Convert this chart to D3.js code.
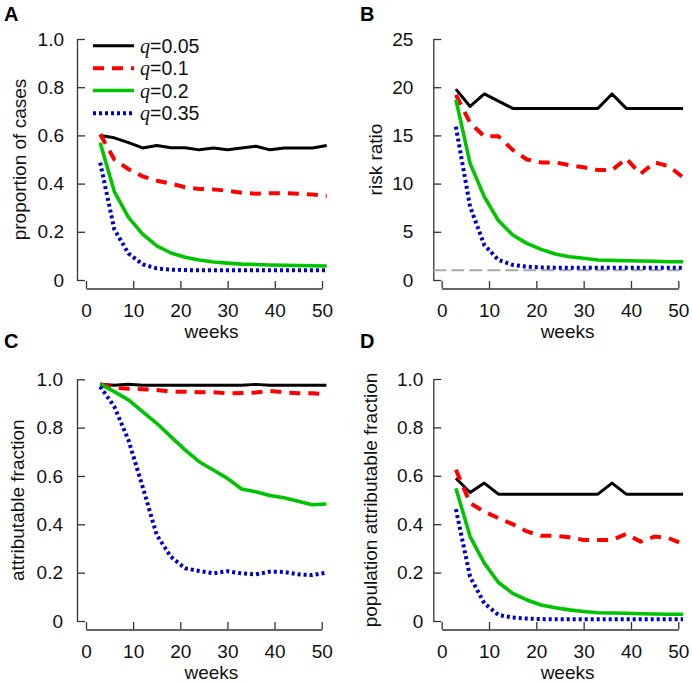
<!DOCTYPE html>
<html><head><meta charset="utf-8">
<script src="https://cdn.jsdelivr.net/npm/d3@7"></script>
<style>
body{margin:0;background:#fff}
svg{display:block}
text{font-family:"Liberation Sans",Arial,Helvetica,sans-serif}
</style>
</head><body>
<svg id="chart" width="692" height="683"></svg>
<script>
// ---------- data ----------
const weeks = [3,6,9,12,15,18,21,24,27,30,33,36,39,42,45,48,51];
const qLabels = ["0.05","0.1","0.2","0.35"];
const xTicks = [0,10,20,30,40,50];
const fracTicks = [0,0.2,0.4,0.6,0.8,1.0];
const rrTicks = [0,5,10,15,20,25];

// A: proportion of cases
const propCases_q005 = [0.600,0.590,0.570,0.548,0.558,0.549,0.549,0.540,0.548,0.540,0.548,0.555,0.540,0.548,0.548,0.548,0.558];
const propCases_q01  = [0.605,0.500,0.460,0.430,0.412,0.400,0.385,0.378,0.376,0.370,0.362,0.358,0.360,0.360,0.358,0.355,0.348];
const propCases_q02  = [0.570,0.367,0.260,0.190,0.142,0.112,0.094,0.083,0.075,0.070,0.066,0.064,0.062,0.061,0.060,0.059,0.058];
const propCases_q035 = [0.487,0.210,0.110,0.065,0.048,0.043,0.041,0.040,0.040,0.040,0.040,0.040,0.040,0.040,0.040,0.040,0.040];

// B: risk ratio
const riskRatio_q005 = [19.8,18.0,19.3,18.55,17.8,17.8,17.8,17.8,17.8,17.8,17.8,19.3,17.8,17.8,17.8,17.8,17.8];
const riskRatio_q01  = [19.2,16.3,14.9,14.9,13.5,12.5,12.2,12.2,11.9,11.7,11.4,11.4,12.6,11.0,12.2,11.8,10.65];
const riskRatio_q02  = [18.7,12.1,8.64,6.15,4.67,3.80,3.18,2.70,2.42,2.25,2.07,2.04,2.00,1.97,1.94,1.90,1.90];
const riskRatio_q035 = [15.9,7.6,3.63,2.07,1.56,1.38,1.31,1.28,1.28,1.28,1.28,1.28,1.28,1.28,1.28,1.28,1.28];
const riskRatioRef = 1;

// C: attributable fraction
const attrFrac_q005 = [0.980,0.975,0.980,0.975,0.975,0.975,0.975,0.975,0.975,0.975,0.975,0.979,0.975,0.975,0.975,0.975,0.975];
const attrFrac_q01  = [0.980,0.966,0.961,0.959,0.956,0.949,0.949,0.946,0.946,0.942,0.943,0.945,0.952,0.946,0.942,0.942,0.938];
const attrFrac_q02  = [0.980,0.949,0.915,0.866,0.818,0.763,0.708,0.659,0.625,0.590,0.546,0.535,0.519,0.510,0.495,0.481,0.484];
const attrFrac_q035 = [0.970,0.887,0.749,0.556,0.356,0.266,0.218,0.207,0.197,0.206,0.197,0.193,0.204,0.203,0.193,0.190,0.200];

// D: population attributable fraction
const popAttrFrac_q005 = [0.590,0.531,0.570,0.524,0.524,0.524,0.524,0.524,0.524,0.524,0.524,0.570,0.524,0.524,0.524,0.524,0.524];
const popAttrFrac_q01  = [0.625,0.487,0.452,0.425,0.400,0.370,0.352,0.352,0.346,0.335,0.335,0.335,0.360,0.328,0.349,0.342,0.319];
const popAttrFrac_q02  = [0.549,0.349,0.239,0.159,0.114,0.087,0.066,0.055,0.046,0.039,0.034,0.033,0.032,0.030,0.029,0.028,0.028];
const popAttrFrac_q035 = [0.462,0.183,0.073,0.025,0.014,0.010,0.008,0.007,0.007,0.007,0.007,0.007,0.007,0.007,0.007,0.007,0.007];

// ---------- styles ----------
const seriesStyle = [
  {color:"#000000", width:3,   dash:null},
  {color:"#ff0000", width:4,   dash:"11,8"},
  {color:"#00c400", width:3.6, dash:null},
  {color:"#0000cd", width:4,   dash:"3,3"}
];
const FS = 19;

const panels = [
  {letter:"A", lx:4, ly:21, data:[propCases_q005,propCases_q01,propCases_q02,propCases_q035],
   yDomain:[0,1], yTicks:fracTicks, xr:[86,322], yr:[280,39], axX:77, axY:288.5, pad:13,
   ylab:"proportion of cases", ylabX:26, legend:true},
  {letter:"B", lx:360, ly:21, data:[riskRatio_q005,riskRatio_q01,riskRatio_q02,riskRatio_q035],
   yDomain:[0,25], yTicks:rrTicks, xr:[441.7,678.3], yr:[280,39], axX:433.3, axY:288.5, pad:20,
   ylab:"risk ratio", ylabX:382, ref:riskRatioRef},
  {letter:"C", lx:4, ly:348, data:[attrFrac_q005,attrFrac_q01,attrFrac_q02,attrFrac_q035],
   yDomain:[0,1], yTicks:fracTicks, xr:[86,321.7], yr:[621,379.3], axX:77, axY:629.5, pad:14,
   ylab:"attributable fraction", ylabX:24},
  {letter:"D", lx:360, ly:348, data:[popAttrFrac_q005,popAttrFrac_q01,popAttrFrac_q02,popAttrFrac_q035],
   yDomain:[0,1], yTicks:fracTicks, xr:[441.7,678.3], yr:[621,379], axX:433.3, axY:629.5, pad:10,
   ylab:"population attributable fraction", ylabX:377}
];

const svg = d3.select("#chart");
const fmtFrac = d => d === 0 ? "0" : d.toFixed(1);

panels.forEach(p => {
  const g = svg.append("g");
  const x = d3.scaleLinear().domain([0,50]).range(p.xr);
  const y = d3.scaleLinear().domain(p.yDomain).range(p.yr);

  // panel letter
  g.append("text").attr("x", p.lx).attr("y", p.ly)
    .attr("font-size", 20).attr("font-weight", "bold").text(p.letter);

  // y axis (ticks pointing inward)
  const yAxis = d3.axisLeft(y).tickValues(p.yTicks)
    .tickFormat(p.yDomain[1] === 1 ? fmtFrac : d3.format("d"))
    .tickSizeInner(-8).tickSizeOuter(0).tickPadding(p.pad);
  const ga = g.append("g").attr("transform", `translate(${p.axX},0)`).call(yAxis);
  ga.selectAll("text").attr("font-size", FS).attr("fill", "#111")
    .attr("font-family", '"Liberation Sans",Arial,sans-serif');
  ga.selectAll("line,path").attr("stroke", "#333").attr("stroke-width", 1.3);

  // x axis
  const xAxis = d3.axisBottom(x).tickValues(xTicks).tickFormat(d3.format("d"))
    .tickSizeInner(-7.5).tickSizeOuter(0).tickPadding(15);
  const gx = g.append("g").attr("transform", `translate(0,${p.axY})`).call(xAxis);
  gx.selectAll("text").attr("font-size", FS).attr("fill", "#111")
    .attr("font-family", '"Liberation Sans",Arial,sans-serif');
  gx.selectAll("line,path").attr("stroke", "#333").attr("stroke-width", 1.3);

  // axis labels
  g.append("text").attr("x", x(26.6)).attr("y", p.axY + 49)
    .attr("text-anchor", "middle").attr("font-size", FS).attr("fill", "#111").text("weeks");
  const yc = (p.yr[0] + p.yr[1]) / 2;
  g.append("text").attr("transform", `translate(${p.ylabX},${yc}) rotate(-90)`)
    .attr("text-anchor", "middle").attr("font-size", FS).attr("fill", "#111").text(p.ylab);

  // reference line
  if (p.ref !== undefined) {
    g.append("line").attr("x1", p.axX).attr("x2", x(51.3))
      .attr("y1", y(p.ref)).attr("y2", y(p.ref))
      .attr("stroke", "#a8a8a8").attr("stroke-width", 2).attr("stroke-dasharray", "13,5");
  }

  // series
  const line = d3.line().x((d,i) => x(weeks[i])).y(d => y(d));
  p.data.forEach((s, k) => {
    const st = seriesStyle[k];
    g.append("path").datum(s).attr("d", line)
      .attr("fill", "none").attr("stroke", st.color).attr("stroke-width", st.width)
      .attr("stroke-linejoin", "round").attr("stroke-linecap", "butt")
      .attr("stroke-dasharray", st.dash);
  });

  // legend
  if (p.legend) {
    const rowsY = [45.7, 68.3, 90.5, 113.3];
    qLabels.forEach((q, k) => {
      const st = seriesStyle[k];
      g.append("line").attr("x1", 93).attr("x2", 134).attr("y1", rowsY[k]).attr("y2", rowsY[k])
        .attr("stroke", st.color).attr("stroke-width", st.width)
        .attr("stroke-dasharray", st.dash);
      const t = g.append("text").attr("x", 140).attr("y", rowsY[k] + 7).attr("font-size", 19.5).attr("fill", "#111");
      t.append("tspan").attr("font-family", '"Liberation Serif","Times New Roman",serif')
        .attr("font-style", "italic").attr("font-size", 20).text("q");
      t.append("tspan").text("=" + q);
    });
  }
});
</script>
</body></html>
